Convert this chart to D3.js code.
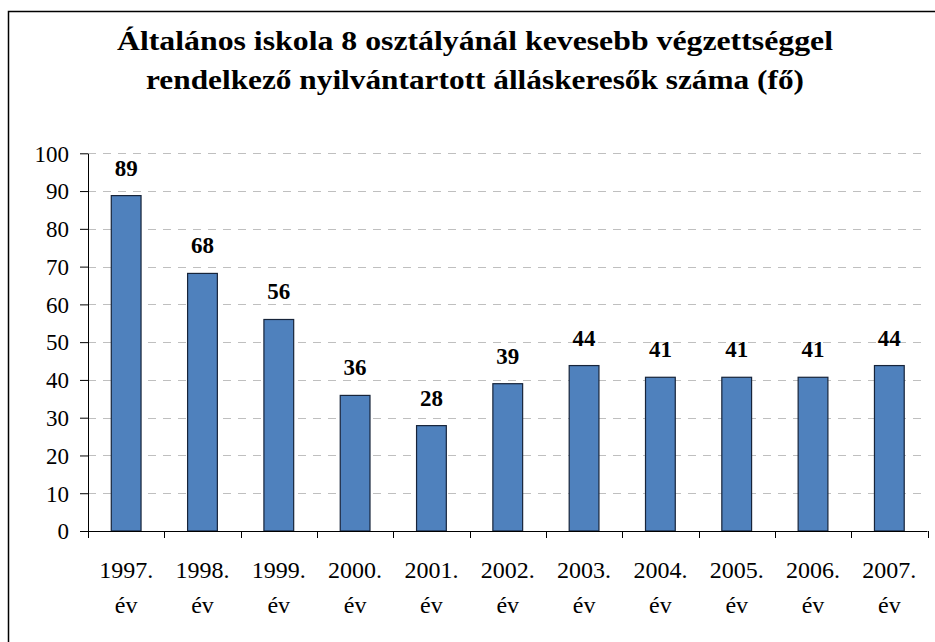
<!DOCTYPE html>
<html>
<head>
<meta charset="utf-8">
<script src="https://cdn.jsdelivr.net/npm/d3@7"></script>
<style>
  body { margin: 0; background: #fff; }
  text { font-family: "Liberation Serif", "Times New Roman", serif; }
</style>
</head>
<body>
<div id="chart"></div>
<script>
var width = 935;
var height = 642;

// data
const years = ["1997.", "1998.", "1999.", "2000.", "2001.", "2002.", "2003.", "2004.", "2005.", "2006.", "2007."];
const yearSuffix = "év";
const values = [88.8, 68.2, 56.0, 35.9, 27.9, 39.0, 43.8, 40.7, 40.7, 40.7, 43.8];
const yTicks = [0, 10, 20, 30, 40, 50, 60, 70, 80, 90, 100];
const titleLines = [
  "Általános iskola 8 osztályánál kevesebb végzettséggel",
  "rendelkező nyilvántartott álláskeresők száma (fő)"
];

var svg = d3.select("#chart")
    .append("svg")
    .attr("width", width)
    .attr("height", height);

// outer frame (right and bottom run off the picture)
svg.append("rect")
    .attr("x", 8.5).attr("y", 11.5)
    .attr("width", 1000).attr("height", 1000)
    .attr("fill", "none")
    .attr("stroke", "#000")
    .attr("stroke-width", 1.5);

// title, stretched a little like the original
var titleLen = [716, 658];
var titleBase = [50, 89];
svg.selectAll("text.title").data(titleLines)
    .enter().append("text")
    .attr("class", "title")
    .attr("x", 475)
    .attr("y", (d, i) => titleBase[i])
    .attr("text-anchor", "middle")
    .attr("font-size", 28)
    .attr("font-weight", "bold")
    .attr("textLength", (d, i) => titleLen[i])
    .attr("lengthAdjust", "spacingAndGlyphs")
    .text(d => d);

var plotLeft = 88, plotRight = 927.5, plotTop = 153.3, plotBottom = 531;

var x = d3.scaleBand().domain(years).range([plotLeft, plotRight]).padding(0);
var y = d3.scaleLinear().domain([0, 100]).range([plotBottom, plotTop]);
var barW = x.bandwidth() * 0.39;

// gridlines
svg.append("g")
    .selectAll("line")
    .data(yTicks.filter(d => d > 0))
    .enter().append("line")
    .attr("x1", plotLeft).attr("x2", plotRight - 1)
    .attr("y1", d => Math.round(y(d)) + 0.5)
    .attr("y2", d => Math.round(y(d)) + 0.5)
    .attr("stroke", "#bfbfbf")
    .attr("stroke-width", 1)
    .attr("stroke-dasharray", "8,7");

// bars
svg.append("g")
    .selectAll("rect")
    .data(values)
    .enter().append("rect")
    .attr("x", (d, i) => x(years[i]) + (x.bandwidth() - barW) / 2)
    .attr("y", d => y(d))
    .attr("width", barW)
    .attr("height", d => plotBottom - y(d))
    .attr("fill", "#4f81bd")
    .attr("stroke", "#17243a")
    .attr("stroke-width", 1.2);

// value labels
svg.append("g")
    .selectAll("text")
    .data(values)
    .enter().append("text")
    .attr("x", (d, i) => x(years[i]) + x.bandwidth() / 2)
    .attr("y", d => y(d) - 20)
    .attr("text-anchor", "middle")
    .attr("font-size", 23)
    .attr("font-weight", "bold")
    .text(d => Math.round(d));

// y axis
var yAxis = svg.append("g")
    .attr("transform", "translate(" + plotLeft + ",0)")
    .call(d3.axisLeft(y).tickValues(yTicks).tickSize(8).tickSizeOuter(0).tickPadding(11));
yAxis.selectAll("text")
    .attr("font-size", 23)
    .attr("fill", "#000")
    .attr("dy", "0.34em");
yAxis.selectAll("line, path").attr("stroke", "#000");

// x axis line with ticks between categories
var xg = svg.append("g");
xg.append("line")
    .attr("x1", plotLeft).attr("x2", plotRight)
    .attr("y1", plotBottom + 0.5).attr("y2", plotBottom + 0.5)
    .attr("stroke", "#000");
xg.selectAll("line.tick")
    .data(years.concat(["end"]))
    .enter().append("line")
    .attr("class", "tick")
    .attr("x1", (d, i) => Math.round(plotLeft + i * x.step()) + 0.5)
    .attr("x2", (d, i) => Math.round(plotLeft + i * x.step()) + 0.5)
    .attr("y1", plotBottom).attr("y2", plotBottom + 7)
    .attr("stroke", "#000");

// category labels (two lines)
var cat = xg.selectAll("text.cat")
    .data(years)
    .enter().append("text")
    .attr("class", "cat")
    .attr("text-anchor", "middle")
    .attr("font-size", 24)
    .attr("x", d => x(d) + x.bandwidth() / 2);
cat.append("tspan")
    .attr("x", d => x(d) + x.bandwidth() / 2)
    .attr("y", 578)
    .text(d => d);
cat.append("tspan")
    .attr("x", d => x(d) + x.bandwidth() / 2)
    .attr("y", 613)
    .text(yearSuffix);
</script>
</body>
</html>
